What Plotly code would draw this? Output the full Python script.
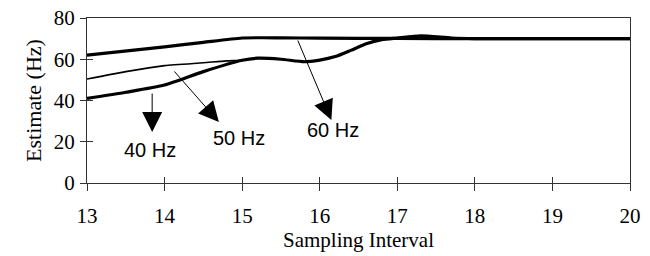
import plotly.graph_objects as go

# Data
x40 = [13, 13.5, 14, 14.5, 15, 15.2, 15.5, 15.8, 16, 16.2, 16.4, 16.6, 16.8, 17, 17.3, 17.7, 18, 19, 20]
y40 = [41, 44, 47.5, 54, 59.5, 60.5, 60, 58.8, 59.6, 61.3, 64.3, 67.5, 69.5, 70.3, 71.4, 70.3, 70, 70, 70]

x50 = [13, 13.5, 14, 14.5, 14.8, 15, 15.2, 15.5, 15.8, 16, 16.2, 16.4, 16.6, 16.8, 17, 17.3, 17.7, 18, 19, 20]
y50 = [50.4, 54, 56.9, 58.3, 59.2, 59.5, 60.5, 60, 58.8, 59.6, 61.3, 64.3, 67.5, 69.5, 70.3, 71.4, 70.3, 70, 70, 70]

x60 = [13, 14, 14.5, 15, 15.5, 16, 17, 18, 19, 20]
y60 = [62, 66, 68.2, 70.3, 70.4, 70.2, 70.1, 70, 70, 70]

x_ticks = [13, 14, 15, 16, 17, 18, 19, 20]
y_ticks = [0, 20, 40, 60, 80]

labels = ["40 Hz", "50 Hz", "60 Hz"]
label_x = [13.81, 14.96, 16.17]
label_y = [16, 21.8, 25.7]
arrow_tail_x = [13.84, 14.11, 15.71]
arrow_tail_y = [44.1, 54.8, 69.8]
arrow_head_x = [13.84, 14.70, 16.15]
arrow_head_y = [24.7, 29.6, 30.5]

fig = go.Figure()
fig.add_trace(go.Scatter(x=x50, y=y50, mode="lines", line=dict(color="black", width=1.6, shape="spline", smoothing=0.6), showlegend=False))
fig.add_trace(go.Scatter(x=x40, y=y40, mode="lines", line=dict(color="black", width=3.2, shape="spline", smoothing=0.6), showlegend=False))
fig.add_trace(go.Scatter(x=x60, y=y60, mode="lines", line=dict(color="black", width=3.2, shape="spline", smoothing=0.6), showlegend=False))
# overlay axis used only for inside tick marks
fig.add_trace(go.Scatter(x=[13, 20], y=[0, 80], mode="none", xaxis="x2", yaxis="y2", showlegend=False, hoverinfo="skip"))

annotations = []
for t, lx, ly in zip(labels, label_x, label_y):
    annotations.append(dict(x=lx, y=ly, xref="x", yref="y", text=t, showarrow=False,
                            font=dict(family="Liberation Sans, Arial", size=20, color="black")))
for tx, ty, hx, hy in zip(arrow_tail_x, arrow_tail_y, arrow_head_x, arrow_head_y):
    annotations.append(dict(x=hx, y=hy, ax=tx, ay=ty, xref="x", yref="y", axref="x", ayref="y",
                            text="", showarrow=True, arrowhead=2, arrowsize=4, arrowwidth=1,
                            arrowcolor="black"))

axis_font = dict(family="Liberation Serif, Times New Roman", size=21, color="black")

fig.update_layout(
    width=650, height=256,
    margin=dict(l=87, r=20, t=18, b=73, autoexpand=False),
    paper_bgcolor="white", plot_bgcolor="white",
    font=axis_font,
    annotations=annotations,
    xaxis=dict(range=[13, 20], tickvals=x_ticks, showgrid=False, zeroline=False, automargin=False,
               showline=True, linecolor="#333", linewidth=1, mirror=True,
               ticks="outside", ticklen=7, tickcolor="#333", tickfont=axis_font,
               ticklabelstandoff=7, ticklabeloverflow="allow",
               title=dict(text="Sampling Interval", font=dict(family="Liberation Serif, Times New Roman", size=21), standoff=0)),
    yaxis=dict(range=[0, 80], tickvals=y_ticks, showgrid=False, zeroline=False, automargin=False,
               showline=True, linecolor="#333", linewidth=1, mirror=True,
               ticks="outside", ticklen=6, tickcolor="#333", tickfont=axis_font,
               ticklabelstandoff=1, ticklabeloverflow="allow",
               title=dict(text="Estimate (Hz)", font=dict(family="Liberation Serif, Times New Roman", size=22), standoff=6)),
    xaxis2=dict(range=[13, 20], tickvals=x_ticks, overlaying="x", side="bottom", anchor="y2",
                showgrid=False, zeroline=False, showline=False, ticks="inside", ticklen=6,
                tickcolor="#333", showticklabels=False, automargin=False),
    yaxis2=dict(range=[0, 80], tickvals=y_ticks, overlaying="y", side="left", anchor="x2",
                showgrid=False, zeroline=False, showline=False, ticks="inside", ticklen=6,
                tickcolor="#333", showticklabels=False, automargin=False),
)

fig.write_html("out.html", config={"displayModeBar": False},
               post_script="document.body.style.margin='0';")
